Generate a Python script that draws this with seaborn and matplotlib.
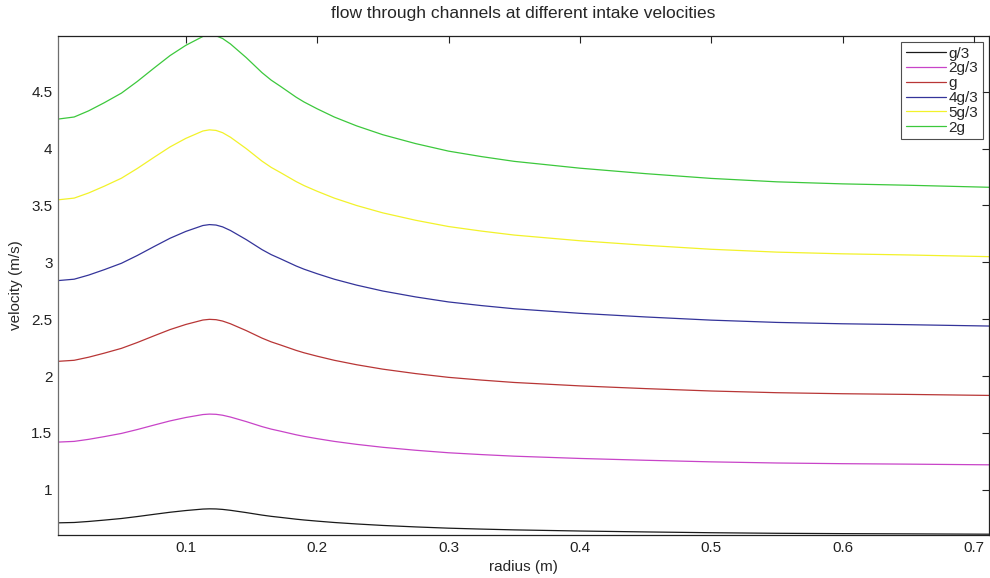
import numpy as np
import pandas as pd
import matplotlib
matplotlib.use("Agg")
import matplotlib.pyplot as plt
from matplotlib.ticker import FormatStrFormatter
import seaborn as sns

# radius samples (m)
radius = [0.003, 0.015, 0.026, 0.038, 0.051, 0.063, 0.076, 0.088, 0.1, 0.108,
          0.113, 0.118, 0.123, 0.128, 0.134, 0.14, 0.146, 0.152, 0.158, 0.165,
          0.172, 0.178, 0.184, 0.19, 0.2, 0.213, 0.23, 0.25, 0.275, 0.3,
          0.325, 0.35, 0.375, 0.4, 0.45, 0.5, 0.55, 0.6, 0.65, 0.712]

# velocities (m/s) for each intake velocity
v_g3 = [0.710, 0.713, 0.722, 0.734, 0.748, 0.765, 0.785, 0.803, 0.818, 0.826,
        0.831, 0.833, 0.832, 0.828, 0.820, 0.810, 0.800, 0.789, 0.778, 0.767,
        0.758, 0.750, 0.742, 0.735, 0.725, 0.713, 0.700, 0.687, 0.674, 0.663,
        0.655, 0.648, 0.643, 0.638, 0.630, 0.623, 0.618, 0.615, 0.613, 0.610]
v_2g3 = [1.420, 1.426, 1.444, 1.468, 1.496, 1.530, 1.570, 1.606, 1.636, 1.652,
         1.662, 1.666, 1.664, 1.656, 1.640, 1.620, 1.600, 1.578, 1.556, 1.534,
         1.516, 1.500, 1.484, 1.470, 1.450, 1.426, 1.400, 1.374, 1.348, 1.326,
         1.310, 1.296, 1.286, 1.276, 1.260, 1.246, 1.236, 1.230, 1.226, 1.220]
v_g = [2.130, 2.139, 2.166, 2.202, 2.244, 2.295, 2.355, 2.409, 2.454, 2.478,
       2.493, 2.499, 2.496, 2.484, 2.460, 2.430, 2.400, 2.367, 2.334, 2.301,
       2.274, 2.250, 2.226, 2.205, 2.175, 2.139, 2.100, 2.061, 2.022, 1.989,
       1.965, 1.944, 1.929, 1.914, 1.890, 1.869, 1.854, 1.845, 1.839, 1.830]
v_4g3 = [2.840, 2.852, 2.888, 2.936, 2.992, 3.060, 3.140, 3.212, 3.272, 3.304,
         3.324, 3.332, 3.328, 3.312, 3.280, 3.240, 3.200, 3.156, 3.112, 3.068,
         3.032, 3.000, 2.968, 2.940, 2.900, 2.852, 2.800, 2.748, 2.696, 2.652,
         2.620, 2.592, 2.572, 2.552, 2.520, 2.492, 2.472, 2.460, 2.452, 2.440]
v_5g3 = [3.550, 3.565, 3.610, 3.670, 3.740, 3.825, 3.925, 4.015, 4.090, 4.130,
         4.155, 4.165, 4.160, 4.140, 4.100, 4.050, 4.000, 3.945, 3.890, 3.835,
         3.790, 3.750, 3.710, 3.675, 3.625, 3.565, 3.500, 3.435, 3.370, 3.315,
         3.275, 3.240, 3.215, 3.190, 3.150, 3.115, 3.090, 3.075, 3.065, 3.050]
v_2g = [4.260, 4.278, 4.332, 4.404, 4.488, 4.590, 4.710, 4.818, 4.908, 4.956,
        4.986, 4.998, 4.992, 4.968, 4.920, 4.860, 4.800, 4.734, 4.668, 4.602,
        4.548, 4.500, 4.452, 4.410, 4.350, 4.278, 4.200, 4.122, 4.044, 3.978,
        3.930, 3.888, 3.858, 3.828, 3.780, 3.738, 3.708, 3.690, 3.678, 3.660]

labels = ['g/3', '2g/3', 'g', '4g/3', '5g/3', '2g']
series = [v_g3, v_2g3, v_g, v_4g3, v_5g3, v_2g]
colors = ['#1a1a1a', '#c844c8', '#b83636', '#34349a', '#f2f22a', '#3cc83c']

# long format for seaborn
df = pd.concat([pd.DataFrame({'radius': radius, 'velocity': s, 'intake': lab})
                for lab, s in zip(labels, series)], ignore_index=True)

sns.set_style('white')
plt.rcParams['font.family'] = ['Liberation Sans', 'DejaVu Sans']

fig = plt.figure(figsize=(9.9, 5.78), dpi=100)
ax = fig.add_axes([0.0586, 0.0744, 0.9404, 0.8633])

sns.lineplot(data=df, x='radius', y='velocity', hue='intake', hue_order=labels,
             palette=dict(zip(labels, colors)), linewidth=0.9, ax=ax, sort=True)

ax.set_xlim(0.0027, 0.7115)
ax.set_ylim(0.603, 4.99)
ax.set_xticks([0.1, 0.2, 0.3, 0.4, 0.5, 0.6, 0.7])
ax.set_yticks([1, 1.5, 2, 2.5, 3, 3.5, 4, 4.5])
ax.xaxis.set_major_formatter(FormatStrFormatter('%g'))
ax.yaxis.set_major_formatter(FormatStrFormatter('%g'))
ax.tick_params(direction='in', length=5, width=0.8, top=True, right=True,
               labelsize=11, colors='#222222', pad=4)
for sp in ax.spines.values():
    sp.set_visible(True)
    sp.set_color('#222222')
    sp.set_linewidth(0.9)
ax.spines['left'].set_color('#6e6e6e')

ax.set_xlabel('radius (m)', fontsize=11, labelpad=4)
ax.set_ylabel('velocity (m/s)', fontsize=11, labelpad=6)
ax.set_title('flow through channels at different intake velocities', fontsize=12.5, pad=13)

leg = ax.legend(loc='upper right', fontsize=11, handlelength=2.6, handletextpad=0.2,
                borderaxespad=0.4, labelspacing=0.05, frameon=True, fancybox=False,
                borderpad=0.3)
leg.get_frame().set_edgecolor('#222222')
leg.get_frame().set_linewidth(0.8)

plt.savefig('out.png', dpi=100)
